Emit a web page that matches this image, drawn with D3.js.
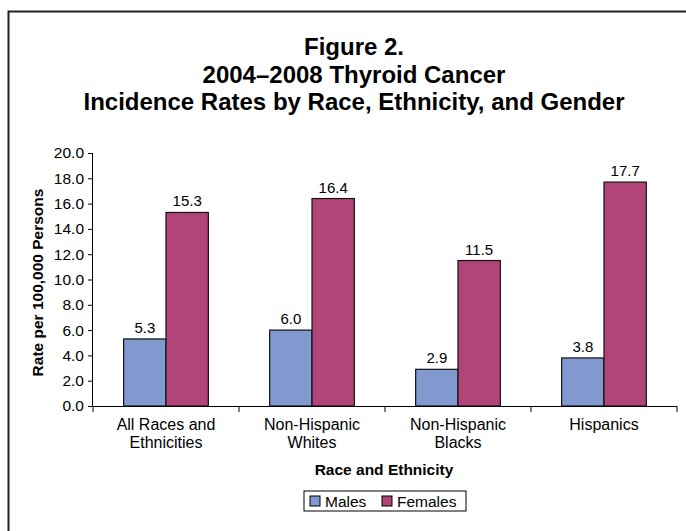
<!DOCTYPE html>
<html>
<head>
<meta charset="utf-8">
<script src="https://cdn.jsdelivr.net/npm/d3@7"></script>
<style>
  body { margin: 0; background: #fff; }
  svg { display: block; font-family: Arial, "Liberation Sans", sans-serif; }
</style>
</head>
<body>
<svg id="vis" width="686" height="531"></svg>
<script>
// chart data
var categories = [["All Races and", "Ethnicities"], ["Non-Hispanic", "Whites"], ["Non-Hispanic", "Blacks"], ["Hispanics"]];
var males = [5.3, 6.0, 2.9, 3.8];
var females = [15.3, 16.4, 11.5, 17.7];
var seriesNames = ["Males", "Females"];
var yTicks = [0, 2, 4, 6, 8, 10, 12, 14, 16, 18, 20];

var colors = ["#8199cf", "#b1457a"];

var svg = d3.select("#vis");

// outer frame (left + top only visible)
svg.append("path")
  .attr("d", "M8.5,531 V11.5 H686")
  .attr("fill", "none")
  .attr("stroke", "#222")
  .attr("stroke-width", 2);

var titleLines = ["Figure 2.", "2004\u20132008 Thyroid Cancer", "Incidence Rates by Race, Ethnicity, and Gender"];
svg.append("g").selectAll("text")
  .data(titleLines)
  .enter().append("text")
  .attr("x", 354)
  .attr("y", function(d, i){ return 55 + i * 27.5; })
  .attr("text-anchor", "middle")
  .style("font-size", "24px")
  .style("font-weight", "bold")
  .text(function(d){ return d; });

var pLeft = 93, pRight = 677, pTop = 153, pBottom = 406;

var x = d3.scaleBand()
  .domain(d3.range(categories.length))
  .range([pLeft, pRight])
  .paddingInner(0.42)
  .paddingOuter(0.21);

var y = d3.scaleLinear().domain([0, 20]).range([pBottom, pTop]);

var series = [males, females];
series.forEach(function(vals, s){
  var bw = x.bandwidth() / 2;
  svg.append("g").selectAll("rect")
    .data(vals)
    .enter().append("rect")
    .attr("x", function(d, i){ return x(i) + s * bw; })
    .attr("y", function(d){ return y(d); })
    .attr("width", bw)
    .attr("height", function(d){ return y(0) - y(d); })
    .attr("fill", colors[s])
    .attr("stroke", "#111")
    .attr("stroke-width", 1.2);

  svg.append("g").selectAll("text")
    .data(vals)
    .enter().append("text")
    .attr("x", function(d, i){ return x(i) + s * bw + bw / 2; })
    .attr("y", function(d){ return y(d) - 6; })
    .attr("text-anchor", "middle")
    .style("font-size", "15px")
    .text(function(d){ return d.toFixed(1); });
});

// y axis
var yAxis = d3.axisLeft(y).tickValues(yTicks).tickFormat(d3.format(".1f")).tickSize(5).tickPadding(4);
var gy = svg.append("g").attr("transform", "translate(" + pLeft + ",0)").call(yAxis);
gy.select(".domain").attr("d", "M-0.5," + pTop + "V" + pBottom).attr("stroke", "#000");
gy.selectAll("text").style("font-size", "15.5px").style("font-family", "Arial, 'Liberation Sans', sans-serif").attr("fill", "#000");

// x axis with tick marks at category boundaries
svg.append("line")
  .attr("x1", pLeft - 5).attr("x2", pRight)
  .attr("y1", pBottom + 0.5).attr("y2", pBottom + 0.5)
  .attr("stroke", "#000");
svg.append("g").selectAll("line")
  .data(d3.range(categories.length + 1))
  .enter().append("line")
  .attr("x1", function(d){ return pLeft + d * (pRight - pLeft) / categories.length; })
  .attr("x2", function(d){ return pLeft + d * (pRight - pLeft) / categories.length; })
  .attr("y1", pBottom).attr("y2", pBottom + 6)
  .attr("stroke", "#000");

var labels = svg.append("g").selectAll("text")
  .data(categories)
  .enter().append("text")
  .attr("text-anchor", "middle")
  .attr("x", function(d, i){ return x(i) + x.bandwidth() / 2; })
  .attr("y", 430)
  .style("font-size", "16px");
labels.selectAll("tspan")
  .data(function(d){ return d; })
  .enter().append("tspan")
  .attr("x", function(){ return d3.select(this.parentNode).attr("x"); })
  .attr("dy", function(d, i){ return i ? 18 : 0; })
  .text(function(d){ return d; });

// axis titles
svg.append("text")
  .attr("x", 384).attr("y", 475)
  .attr("text-anchor", "middle")
  .style("font-size", "15.5px").style("font-weight", "bold")
  .text("Race and Ethnicity");

svg.append("text")
  .attr("transform", "translate(43," + ((pTop + pBottom) / 2 + 3) + ") rotate(-90)")
  .attr("text-anchor", "middle")
  .style("font-size", "15.5px").style("font-weight", "bold")
  .text("Rate per 100,000 Persons");

// legend
var lg = svg.append("g").attr("transform", "translate(304,491)");
lg.append("rect").attr("width", 162).attr("height", 20).attr("fill", "#fff").attr("stroke", "#000");
var items = lg.selectAll("g.item")
  .data(seriesNames)
  .enter().append("g")
  .attr("transform", function(d, i){ return "translate(" + (i ? 78 : 6) + ",0)"; });
items.append("rect")
  .attr("y", 5).attr("width", 10).attr("height", 10)
  .attr("fill", function(d, i){ return colors[i]; })
  .attr("stroke", "#000");
items.append("text")
  .attr("x", 15).attr("y", 15.5)
  .style("font-size", "15.5px")
  .text(function(d){ return d; });
</script>
</body>
</html>
